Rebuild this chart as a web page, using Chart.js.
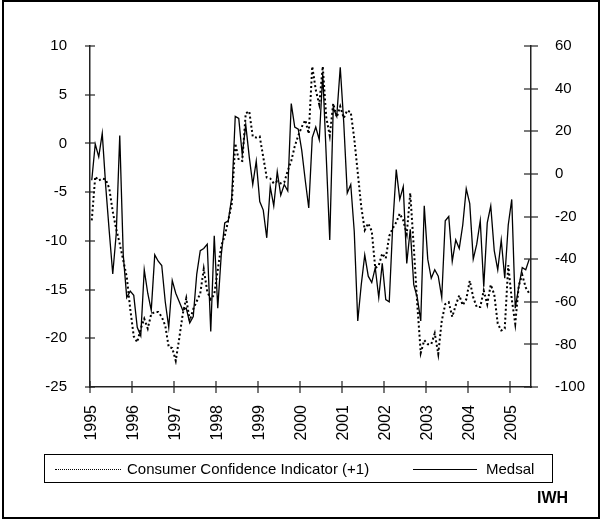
<!DOCTYPE html>
<html>
<head>
<meta charset="utf-8">
<script src="https://cdn.jsdelivr.net/npm/chart.js@4/dist/chart.umd.min.js"></script>
<style>
  html, body { margin: 0; padding: 0; background: #fff; }
  #wrap { position: relative; width: 602px; height: 519px; overflow: hidden; }
  #frame { position: absolute; left: 2px; top: 0; width: 594px; height: 515px; border: 2px solid #000; }
  #chart { position: absolute; left: 0; top: 0; }
  #legend {
    position: absolute; left: 44px; top: 454px; width: 507px; height: 27px;
    border: 1px solid #000; font: 15px "Liberation Sans", Arial, sans-serif; color: #000;
  }
  #legend .sample { position: absolute; top: 14px; height: 0; }
  #legend .dotted { left: 10px; width: 66px; border-top: 1px dotted #000; }
  #legend .solid { left: 368px; width: 64px; border-top: 1px solid #000; }
  #legend .txt { position: absolute; top: 5px; }
  #iwh { position: absolute; left: 537px; top: 489px; font: bold 16px "Liberation Sans", Arial, sans-serif; }
</style>
</head>
<body>
<div id="wrap">
  <div id="frame"></div>
  <canvas id="chart" width="602" height="519"></canvas>
  <div id="legend">
    <div class="sample dotted"></div><div class="txt" style="left:82px">Consumer Confidence Indicator (+1)</div>
    <div class="sample solid"></div><div class="txt" style="left:441px">Medsal</div>
  </div>
  <div id="iwh">IWH</div>
</div>
<script>
// monthly data, Jan 1995 - Jun 2005
const startYear = 1995;
const years = ['1995', '1996', '1997', '1998', '1999', '2000', '2001', '2002', '2003', '2004', '2005'];

// Consumer Confidence Indicator (+1), left axis
const cci = [
  -7.9, -3.4, -3.8, -3.6, -3.7, -4.6, -7, -8.8, -10.3, -12, -13.7, -17,
  -19.8, -20.4, -19, -18, -19, -17.5, -17.3, -17.3, -17.8, -18.7, -20.9, -21,
  -22.3, -20, -17.5, -15.9, -18.2, -17, -16.2, -15.4, -12.9, -15.2, -16, -15.5,
  -13, -10.5, -9.5, -7.9, -6.2, 0, -1.7, -1.8, 3.1, 3.3, 0.7, 0.6,
  0.7, -1.4, -3.5, -3.6, -4.1, -3.9, -4.1, -4, -2.8, -1.8, -0.3, 0.8,
  1.7, 2.4, 1, 7.9, 5.5, 4, 7.9, 2.7, 0.8, 4.1, 2.7, 3.8,
  2.6, 3.4, 3.2, 0.5, -3, -6.5, -8.9, -8.2, -9, -12.8, -12.5, -11.3,
  -11.8, -9.5, -8.7, -8.1, -7.2, -7.9, -9.3, -5.1, -10.6, -16.5, -21.5, -20.2,
  -20.6, -20.6, -19.5, -21.6, -18.2, -16.5, -16.3, -17.8, -16.6, -15.6, -16.6, -16,
  -14.1, -15.8, -16.8, -16.8, -15.1, -16.5, -14.5, -15.5, -18.5, -19.2, -19, -12.5,
  -16, -18.5, -14.6, -13.5, -14.8, -15.4
];

// Medsal, right axis
const medsal = [
  -3, 14, 8, 19, -6, -27, -47, -28, 18, -38, -58, -55,
  -57, -72, -76, -45, -56, -64, -38, -41, -43, -60, -72, -50,
  -56, -60, -64, -63, -70, -67, -47, -36, -35, -33, -74, -29,
  -63, -38, -23, -22, -11, 27, 26, 9, 23, 8, -5, 6,
  -13, -17, -30, -6, -15, 1, -10, -5, -8, 33, 22, 21,
  11, -3, -16, 17, 22, 16, 47, 8, -31, 31, 27, 50,
  24, -9, -5, -27, -69, -52, -38, -48, -51, -44, -58, -42,
  -59, -60, -24, 2, -12, -6, -42, -26, -52, -58, -69, -15,
  -40, -49, -45, -48, -58, -22, -20, -41, -31, -35, -24, -7,
  -14, -40, -33, -22, -53, -23, -15, -36, -45, -31, -49, -24,
  -12, -63, -53, -44, -45, -40
];

const toPoints = (arr) => arr.map((v, i) => ({ x: i + 0.5, y: v }));

const crossTicks = {
  id: 'crossTicks',
  afterDraw(chart) {
    const ctx = chart.ctx;
    ctx.save();
    ctx.strokeStyle = '#222';
    ctx.lineWidth = 1.2;
    ['x', 'y', 'y1'].forEach((id) => {
      const s = chart.scales[id];
      s.ticks.forEach((t) => {
        const p = Math.round(s.getPixelForValue(t.value));
        ctx.beginPath();
        if (id === 'x') {
          ctx.moveTo(p, s.top - 6);
          ctx.lineTo(p, s.top + 6);
        } else if (id === 'y') {
          ctx.moveTo(s.right - 5, p);
          ctx.lineTo(s.right + 5, p);
        } else {
          ctx.moveTo(s.left - 7, p);
          ctx.lineTo(s.left + 7, p);
        }
        ctx.stroke();
      });
    });
    ctx.restore();
  },
};

const tickFont = { family: 'Liberation Sans', size: 15 };

new Chart(document.getElementById('chart'), {
  type: 'line',
  data: {
    datasets: [
      {
        label: 'Consumer Confidence Indicator (+1)',
        data: toPoints(cci),
        yAxisID: 'y',
        borderColor: '#000',
        borderWidth: 2,
        borderDash: [2, 2.5],
        pointRadius: 0,
        tension: 0,
      },
      {
        label: 'Medsal',
        data: toPoints(medsal),
        yAxisID: 'y1',
        borderColor: '#000',
        borderWidth: 1.3,
        pointRadius: 0,
        tension: 0,
      },
    ],
  },
  options: {
    responsive: false,
    animation: false,
    layout: { padding: { top: 46, left: 0, right: 0, bottom: 0 } },
    plugins: { legend: { display: false }, tooltip: { enabled: false } },
    scales: {
      x: {
        type: 'linear',
        min: 0,
        max: 126,
        grid: { display: false },
        border: { display: true, color: '#222', width: 1.5 },
        afterBuildTicks: (s) => {
          s.ticks = years.map((y, k) => ({ value: k * 12 }));
        },
        afterFit: (s) => { s.height = 132; },
        ticks: {
          minRotation: 90,
          maxRotation: 90,
          padding: 10,
          labelOffset: 2,
          color: '#000',
          font: { family: 'Liberation Sans', size: 16 },
          callback: (v) => String(startYear + v / 12),
        },
      },
      y: {
        position: 'left',
        min: -25,
        max: 10,
        grid: { display: false },
        border: { display: true, color: '#222', width: 1.5 },
        afterFit: (s) => { s.width = 90; },
        ticks: { stepSize: 5, padding: 15, color: '#000', font: tickFont },
      },
      y1: {
        position: 'right',
        min: -100,
        max: 60,
        grid: { display: false },
        border: { display: true, color: '#222', width: 1.5 },
        afterFit: (s) => { s.width = 71; },
        ticks: { stepSize: 20, padding: 16, color: '#000', font: tickFont },
      },
    },
  },
  plugins: [crossTicks],
});
</script>
</body>
</html>
